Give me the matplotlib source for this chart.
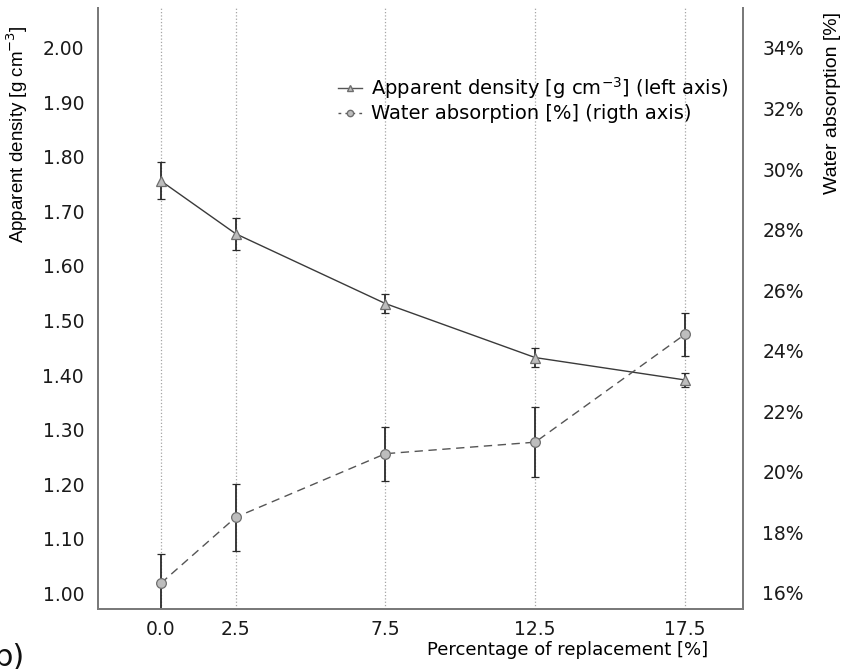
import numpy as np
import matplotlib
matplotlib.use('Agg')
import matplotlib.pyplot as plt
from matplotlib.lines import Line2D
from matplotlib.ticker import FuncFormatter

# data
replacement = [0.0, 2.5, 7.5, 12.5, 17.5]
density = [1.756, 1.659, 1.531, 1.432, 1.391]
density_err = [0.034, 0.029, 0.017, 0.018, 0.013]
absorption = [16.32, 18.50, 20.60, 20.98, 24.54]
absorption_err = [0.96, 1.10, 0.89, 1.16, 0.70]

left_ticks = [1.00, 1.10, 1.20, 1.30, 1.40, 1.50, 1.60, 1.70, 1.80, 1.90, 2.00]
right_ticks = [16, 18, 20, 22, 24, 26, 28, 30, 32, 34]

plt.rcParams['font.family'] = ['DejaVu Sans']
narrow = ['Liberation Sans', 'DejaVu Sans']
spine_col = '#7a7a7a'
fill_col = '#bdbdbd'
dash = (0, (6, 4))

fig = plt.figure(figsize=(8.44, 6.69), dpi=100)
ax = fig.add_axes([98 / 844, 1 - 609 / 669, (743 - 98) / 844, (609 - 8) / 669])
ax2 = ax.twinx()

# vertical dotted grid at each x tick
ax.set_xticks(replacement)
ax.xaxis.grid(True, linestyle=':', color='#a5a5a5', linewidth=0.9)
ax.set_axisbelow(True)

ax.errorbar(replacement, density, yerr=density_err, color='#3a3a3a', lw=1.0,
            marker='^', ms=7, mfc=fill_col, mec='#6e6e6e', mew=0.9,
            ecolor='#2a2a2a', elinewidth=1.3, capsize=3, capthick=0.9)
ax2.errorbar(replacement, absorption, yerr=absorption_err, color='#555555', lw=1.0,
             linestyle=dash, marker='o', ms=7, mfc=fill_col, mec='#6e6e6e',
             mew=0.9, ecolor='#2a2a2a', elinewidth=1.3, capsize=3, capthick=0.9)

ax.set_xlim(-2.10, 19.44)
ax.set_ylim(0.971, 2.073)
ax2.set_ylim(15.47, 35.32)

ax.set_yticks(left_ticks)
ax.yaxis.set_major_formatter(FuncFormatter(lambda v, p: f'{v:.2f}'))
ax2.set_yticks(right_ticks)
ax2.yaxis.set_major_formatter(FuncFormatter(lambda v, p: f'{v:.0f}%'))
ax.xaxis.set_major_formatter(FuncFormatter(lambda v, p: f'{v:.1f}'))

ax.tick_params(axis='y', length=0, pad=10, labelsize=13.5, labelcolor='#1a1a1a')
ax.tick_params(axis='x', length=0, pad=8, labelsize=13.5, labelcolor='#1a1a1a')
ax2.tick_params(axis='y', length=0, pad=14, labelsize=13.5, labelcolor='#1a1a1a')

for a in (ax, ax2):
    a.spines['top'].set_visible(False)
    for s in ('left', 'right', 'bottom'):
        a.spines[s].set_color(spine_col)
        a.spines[s].set_linewidth(1.4)

ax.set_ylabel('Apparent density [g cm$^{-3}$]', family=narrow, fontsize=13.5, loc='top')
ax.yaxis.set_label_coords((30 - 98) / 645, (609 - 25) / 601)
ax2.set_ylabel('Water absorption [%]', family=narrow, fontsize=14, loc='top')
ax2.yaxis.set_label_coords((824 - 98) / 645, (609 - 12) / 601)

ax.set_xlabel('Percentage of replacement [%]', fontsize=13, ha='right', va='center')
ax.xaxis.set_label_coords((708 - 98) / 645, -0.068)

# legend handles: plain line + marker, no error bars
handles = [
    Line2D([], [], color='#555555', lw=1.0, marker='^', ms=7, mfc=fill_col, mec='#6e6e6e'),
    Line2D([], [], color='#555555', lw=1.0, linestyle=(0, (2, 3)), marker='o', ms=7,
           mfc=fill_col, mec='#6e6e6e'),
]
labels = ['Apparent density [g cm$^{-3}$] (left axis)', 'Water absorption [%] (rigth axis)']
ax.legend(handles, labels, loc='upper right', bbox_to_anchor=(0.99, 0.902),
          frameon=False, fontsize=14, handlelength=1.2, handletextpad=0.5,
          labelspacing=0.2, markerscale=0.65, borderaxespad=0)

fig.text(-0.008, 0.005, 'b)', fontsize=22, color='#111111')

fig.savefig('out.png', dpi=100)
